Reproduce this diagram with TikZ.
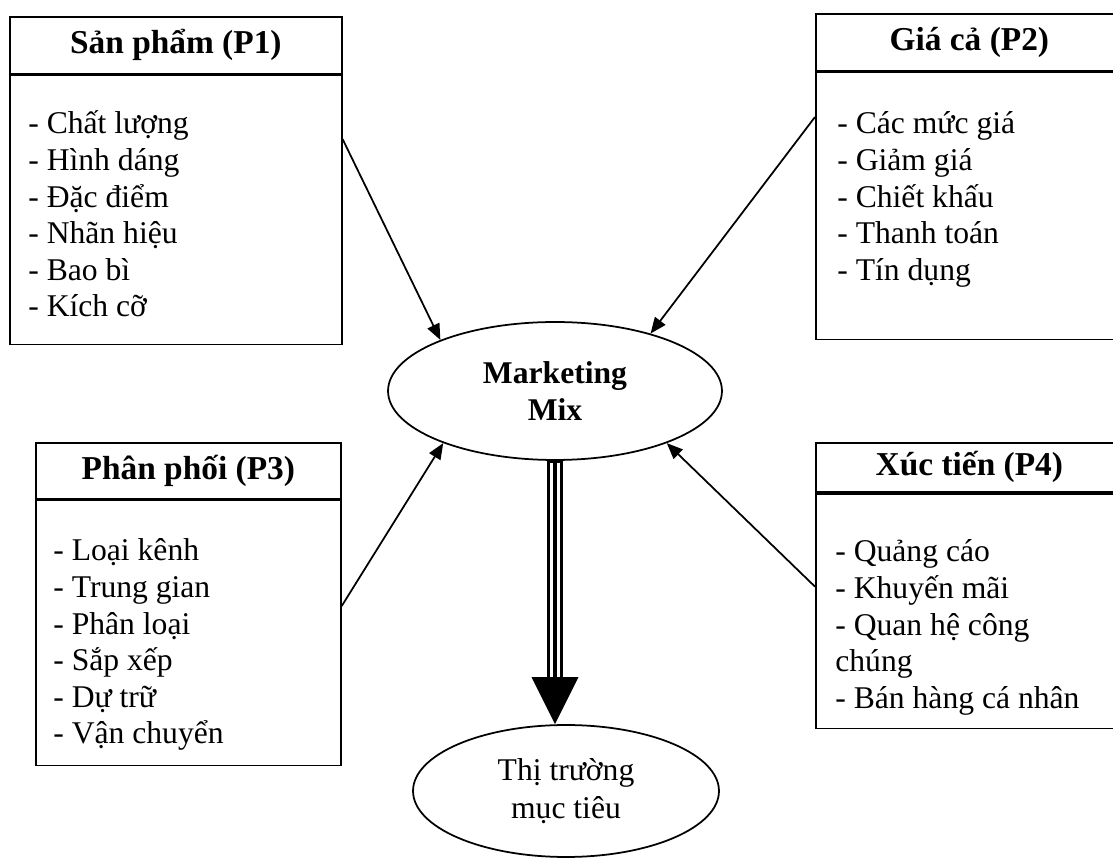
\documentclass[tikz,border=0pt]{standalone}
\usepackage{fontspec}
\setmainfont{Liberation Serif}
\usetikzlibrary{arrows.meta,positioning,shapes.geometric}
\tikzset{
  hdr/.style={draw, line width=1pt, inner sep=0pt, anchor=north west, font=\fontsize{19}{22}\selectfont\bfseries},
  frm/.style={draw, line width=1pt, inner sep=0pt},
  lst/.style={align=left, inner sep=0pt, font=\fontsize{18}{20.8}\selectfont},
  oval/.style={draw, ellipse, line width=1pt, inner sep=0pt, align=center, font=\fontsize{18}{21.5}\selectfont},
  link/.style={line width=1pt, -{Triangle[length=0.32cm,width=0.26cm]}}
}
\newcommand{\fstln}{\rule{0pt}{17pt}}

\begin{document}
\begin{tikzpicture}[x=0.02cm, y=-0.02cm]
  \useasboundingbox (0,0) rectangle (1113,864);

  % four P boxes
  \node[hdr, minimum width=6.64cm, minimum height=1.14cm] (p1h) at (9,16) {Sản phẩm (P1)};
  \node[frm, minimum width=6.64cm, minimum height=5.38cm, below=0pt of p1h] (p1b) {};
  \node[lst, below right=0.58cm and 0.38cm of p1b.north west] (p1t)
    {\fstln- Chất lượng\\- Hình dáng\\- Đặc điểm\\- Nhãn hiệu\\- Bao bì\\- Kích cỡ};

  \node[hdr, minimum width=6.14cm, minimum height=1.14cm] (p2h) at (815,13) {Giá cả (P2)};
  \node[frm, minimum width=6.14cm, minimum height=5.34cm, below=0pt of p2h] (p2b) {};
  \node[lst, below right=0.64cm and 0.44cm of p2b.north west] (p2t)
    {\fstln- Các mức giá\\- Giảm giá\\- Chiết khấu\\- Thanh toán\\- Tín dụng};

  \node[hdr, minimum width=6.1cm, minimum height=1.12cm] (p3h) at (35,442) {Phân phối (P3)};
  \node[frm, minimum width=6.1cm, minimum height=5.3cm, below=0pt of p3h] (p3b) {};
  \node[lst, below right=0.62cm and 0.36cm of p3b.north west] (p3t)
    {\fstln- Loại kênh\\- Trung gian\\- Phân loại\\- Sắp xếp\\- Dự trữ\\- Vận chuyển};

  \node[hdr, minimum width=6.14cm, minimum height=0.98cm] (p4h) at (815,442) {Xúc tiến (P4)};
  \node[frm, minimum width=6.14cm, minimum height=4.7cm, below=0pt of p4h] (p4b) {};
  \node[lst, below right=0.78cm and 0.4cm of p4b.north west] (p4t)
    {\fstln- Quảng cáo\\- Khuyến mãi\\- Quan hệ công\\chúng\\- Bán hàng cá nhân};

  % ovals
  \node[oval, font=\fontsize{18}{21.5}\selectfont\bfseries, minimum width=6.68cm, minimum height=2.76cm] (mix) at (555,391) {Marketing\\Mix};
  \node[oval, minimum width=6.12cm, minimum height=2.64cm] (mkt) at (566,791) {Thị trường\\mục tiêu};

  \draw[link] (p1b.23) -- (mix.156);
  \draw[link] (p2b.150) -- (mix.31);
  \draw[link] (p3b.10) -- (mix.205);
  \draw[link] (p4b.171) -- (mix.335);

  % triple arrow down
  \draw[line width=0.32cm, -{Triangle[length=0.94cm,width=0.94cm,line width=0pt]}] (mix.south) -- (mix.south |- mkt.north);
  \draw[white, line width=0.2cm, shorten <=1pt, shorten >=0.94cm] (mix.south) -- (mix.south |- mkt.north);
  \draw[line width=0.08cm, shorten >=0.94cm] (mix.south) -- (mix.south |- mkt.north);
\end{tikzpicture}
\end{document}
